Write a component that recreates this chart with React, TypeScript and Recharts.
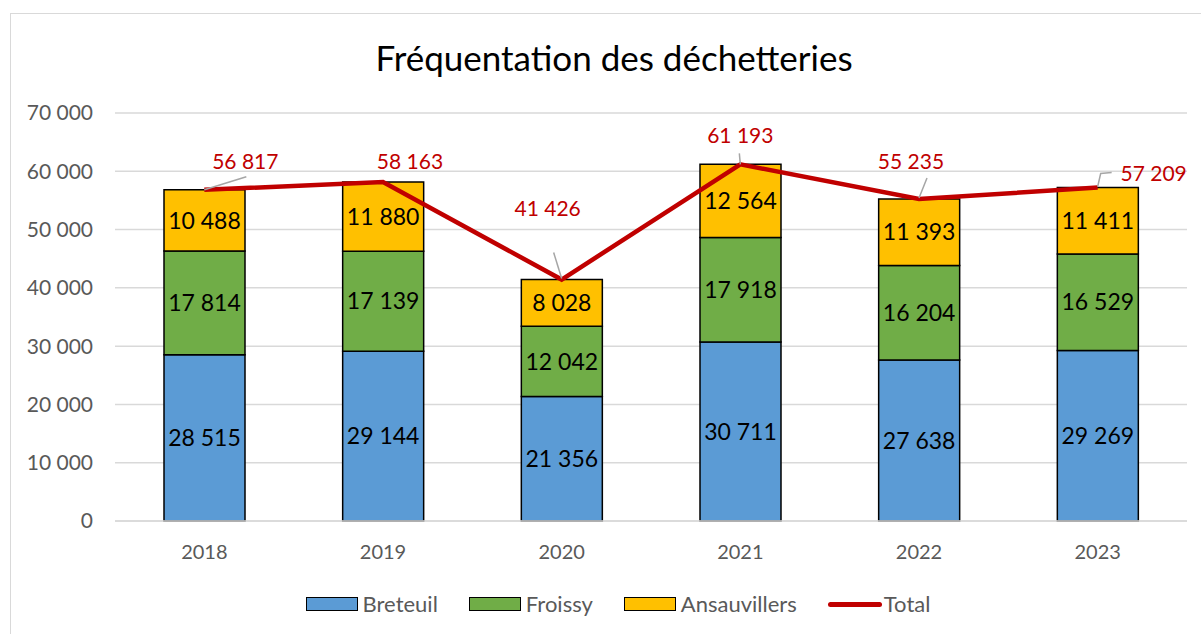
import React from 'react';
import { ComposedChart, Bar, Line, XAxis, YAxis, CartesianGrid, Legend, LabelList } from 'recharts';

const YEARS = ['2018', '2019', '2020', '2021', '2022', '2023'];
const BRETEUIL = [28515, 29144, 21356, 30711, 27638, 29269];
const FROISSY = [17814, 17139, 12042, 17918, 16204, 16529];
const ANSAUVILLERS = [10488, 11880, 8028, 12564, 11393, 11411];
const TOTAL = [56817, 58163, 41426, 61193, 55235, 57209];
const Y_TICKS = [0, 10000, 20000, 30000, 40000, 50000, 60000, 70000];

// where each total label sits relative to its point, plus its leader line
const TOTAL_LABEL_POS = [
  { dx: 41, dy: -29, leader: [[0, 0], [42, -13]] },
  { dx: 27, dy: -21, leader: [] },
  { dx: -14, dy: -72, leader: [[0, -1], [-8, -27]] },
  { dx: 0, dy: -30, leader: [[0, 0], [-1, -11]] },
  { dx: -8, dy: -39, leader: [[0, -1], [8, -21]] },
  { dx: 56, dy: -15, leader: [[0, -1], [3, -14], [14, -15]] },
];

const COLORS = { breteuil: '#5b9bd5', froissy: '#70ad47', ansauvillers: '#ffc000', total: '#c00000' };
const FONT = 'Lato, "Open Sans", sans-serif';

const fmt = (v: number) => String(v).replace(/\B(?=(\d{3})+(?!\d))/g, ' ');

const data = YEARS.map((year, i) => ({
  year,
  breteuil: BRETEUIL[i],
  froissy: FROISSY[i],
  ansauvillers: ANSAUVILLERS[i],
  total: TOTAL[i],
}));

const TotalLabel = (props: any) => {
  const { x, y, value, index } = props;
  const pos = TOTAL_LABEL_POS[index];
  const pts = pos.leader.map(([a, b]) => `${x + a},${y + b}`).join(' ');
  return (
    <g>
      {pos.leader.length > 0 && (
        <polyline points={pts} fill="none" stroke="#a6a6a6" strokeWidth={1.5} />
      )}
      <text
        x={x + pos.dx}
        y={y + pos.dy}
        textAnchor="middle"
        dominantBaseline="central"
        fill={COLORS.total}
        fontSize={21}
        fontFamily={FONT}
      >
        {fmt(value)}
      </text>
    </g>
  );
};

const LEGEND_ITEMS = [
  { name: 'Breteuil', color: COLORS.breteuil, type: 'rect' },
  { name: 'Froissy', color: COLORS.froissy, type: 'rect' },
  { name: 'Ansauvillers', color: COLORS.ansauvillers, type: 'rect' },
  { name: 'Total', color: COLORS.total, type: 'line' },
];

const LegendContent = () => (
  <div style={{ display: 'flex', justifyContent: 'center', paddingLeft: 49, height: 20, alignItems: 'center', fontFamily: FONT }}>
    {LEGEND_ITEMS.map((it, i) => (
      <div key={it.name} style={{ display: 'flex', alignItems: 'center', marginRight: i < LEGEND_ITEMS.length - 1 ? 31 : 0 }}>
        {it.type === 'rect' ? (
          <div style={{ width: 50, height: 12, background: it.color, border: '1.5px solid #000', marginRight: 5 }} />
        ) : (
          <div style={{ width: 54, height: 5, background: it.color, borderRadius: 3, marginRight: 2 }} />
        )}
        <span style={{ fontSize: 22, color: '#595959', lineHeight: '20px' }}>{it.name}</span>
      </div>
    ))}
  </div>
);

export default function App() {
  return (
    <div style={{ position: 'fixed', left: 0, top: 0, width: 1201, height: 634, background: '#fff', overflow: 'hidden', fontFamily: FONT }}>
      <div style={{ position: 'absolute', left: 10, top: 13, width: 1400, height: 800, border: '1.5px solid #d9d9d9' }} />
      <div style={{ position: 'absolute', left: 0, top: 36, width: 1228, textAlign: 'center', fontSize: 35, color: '#000', lineHeight: '42px' }}>
        Fréquentation des déchetteries
      </div>
      <div style={{ position: 'absolute', left: 0, top: 0 }}>
        <ComposedChart width={1201} height={634} data={data} margin={{ top: 113, right: 14, left: 0, bottom: 20 }}>
          <CartesianGrid vertical={false} stroke="#d9d9d9" strokeWidth={1.5} />
          <XAxis
            dataKey="year"
            height={73}
            tickLine={false}
            axisLine={{ stroke: '#d9d9d9', strokeWidth: 1.5 }}
            tick={{ fill: '#595959', fontSize: 20, fontFamily: FONT }}
            tickMargin={18}
          />
          <YAxis
            width={115}
            domain={[0, 70000]}
            ticks={Y_TICKS}
            tickFormatter={fmt}
            tickLine={false}
            axisLine={false}
            tick={{ fill: '#595959', fontSize: 21, fontFamily: FONT }}
            tickMargin={16}
          />
          <Legend verticalAlign="bottom" height={20} content={<LegendContent />} />
          <Bar dataKey="breteuil" name="Breteuil" stackId="a" fill={COLORS.breteuil} stroke="#000" strokeWidth={1.5} barSize={81} isAnimationActive={false}>
            <LabelList dataKey="breteuil" position="center" formatter={fmt} fill="#000" fontSize={23} fontFamily={FONT} />
          </Bar>
          <Bar dataKey="froissy" name="Froissy" stackId="a" fill={COLORS.froissy} stroke="#000" strokeWidth={1.5} barSize={81} isAnimationActive={false}>
            <LabelList dataKey="froissy" position="center" formatter={fmt} fill="#000" fontSize={23} fontFamily={FONT} />
          </Bar>
          <Bar dataKey="ansauvillers" name="Ansauvillers" stackId="a" fill={COLORS.ansauvillers} stroke="#000" strokeWidth={1.5} barSize={81} isAnimationActive={false}>
            <LabelList dataKey="ansauvillers" position="center" formatter={fmt} fill="#000" fontSize={23} fontFamily={FONT} />
          </Bar>
          <Line dataKey="total" name="Total" stroke={COLORS.total} strokeWidth={4.5} dot={false} activeDot={false} isAnimationActive={false}>
            <LabelList dataKey="total" content={<TotalLabel />} />
          </Line>
        </ComposedChart>
      </div>
    </div>
  );
}
